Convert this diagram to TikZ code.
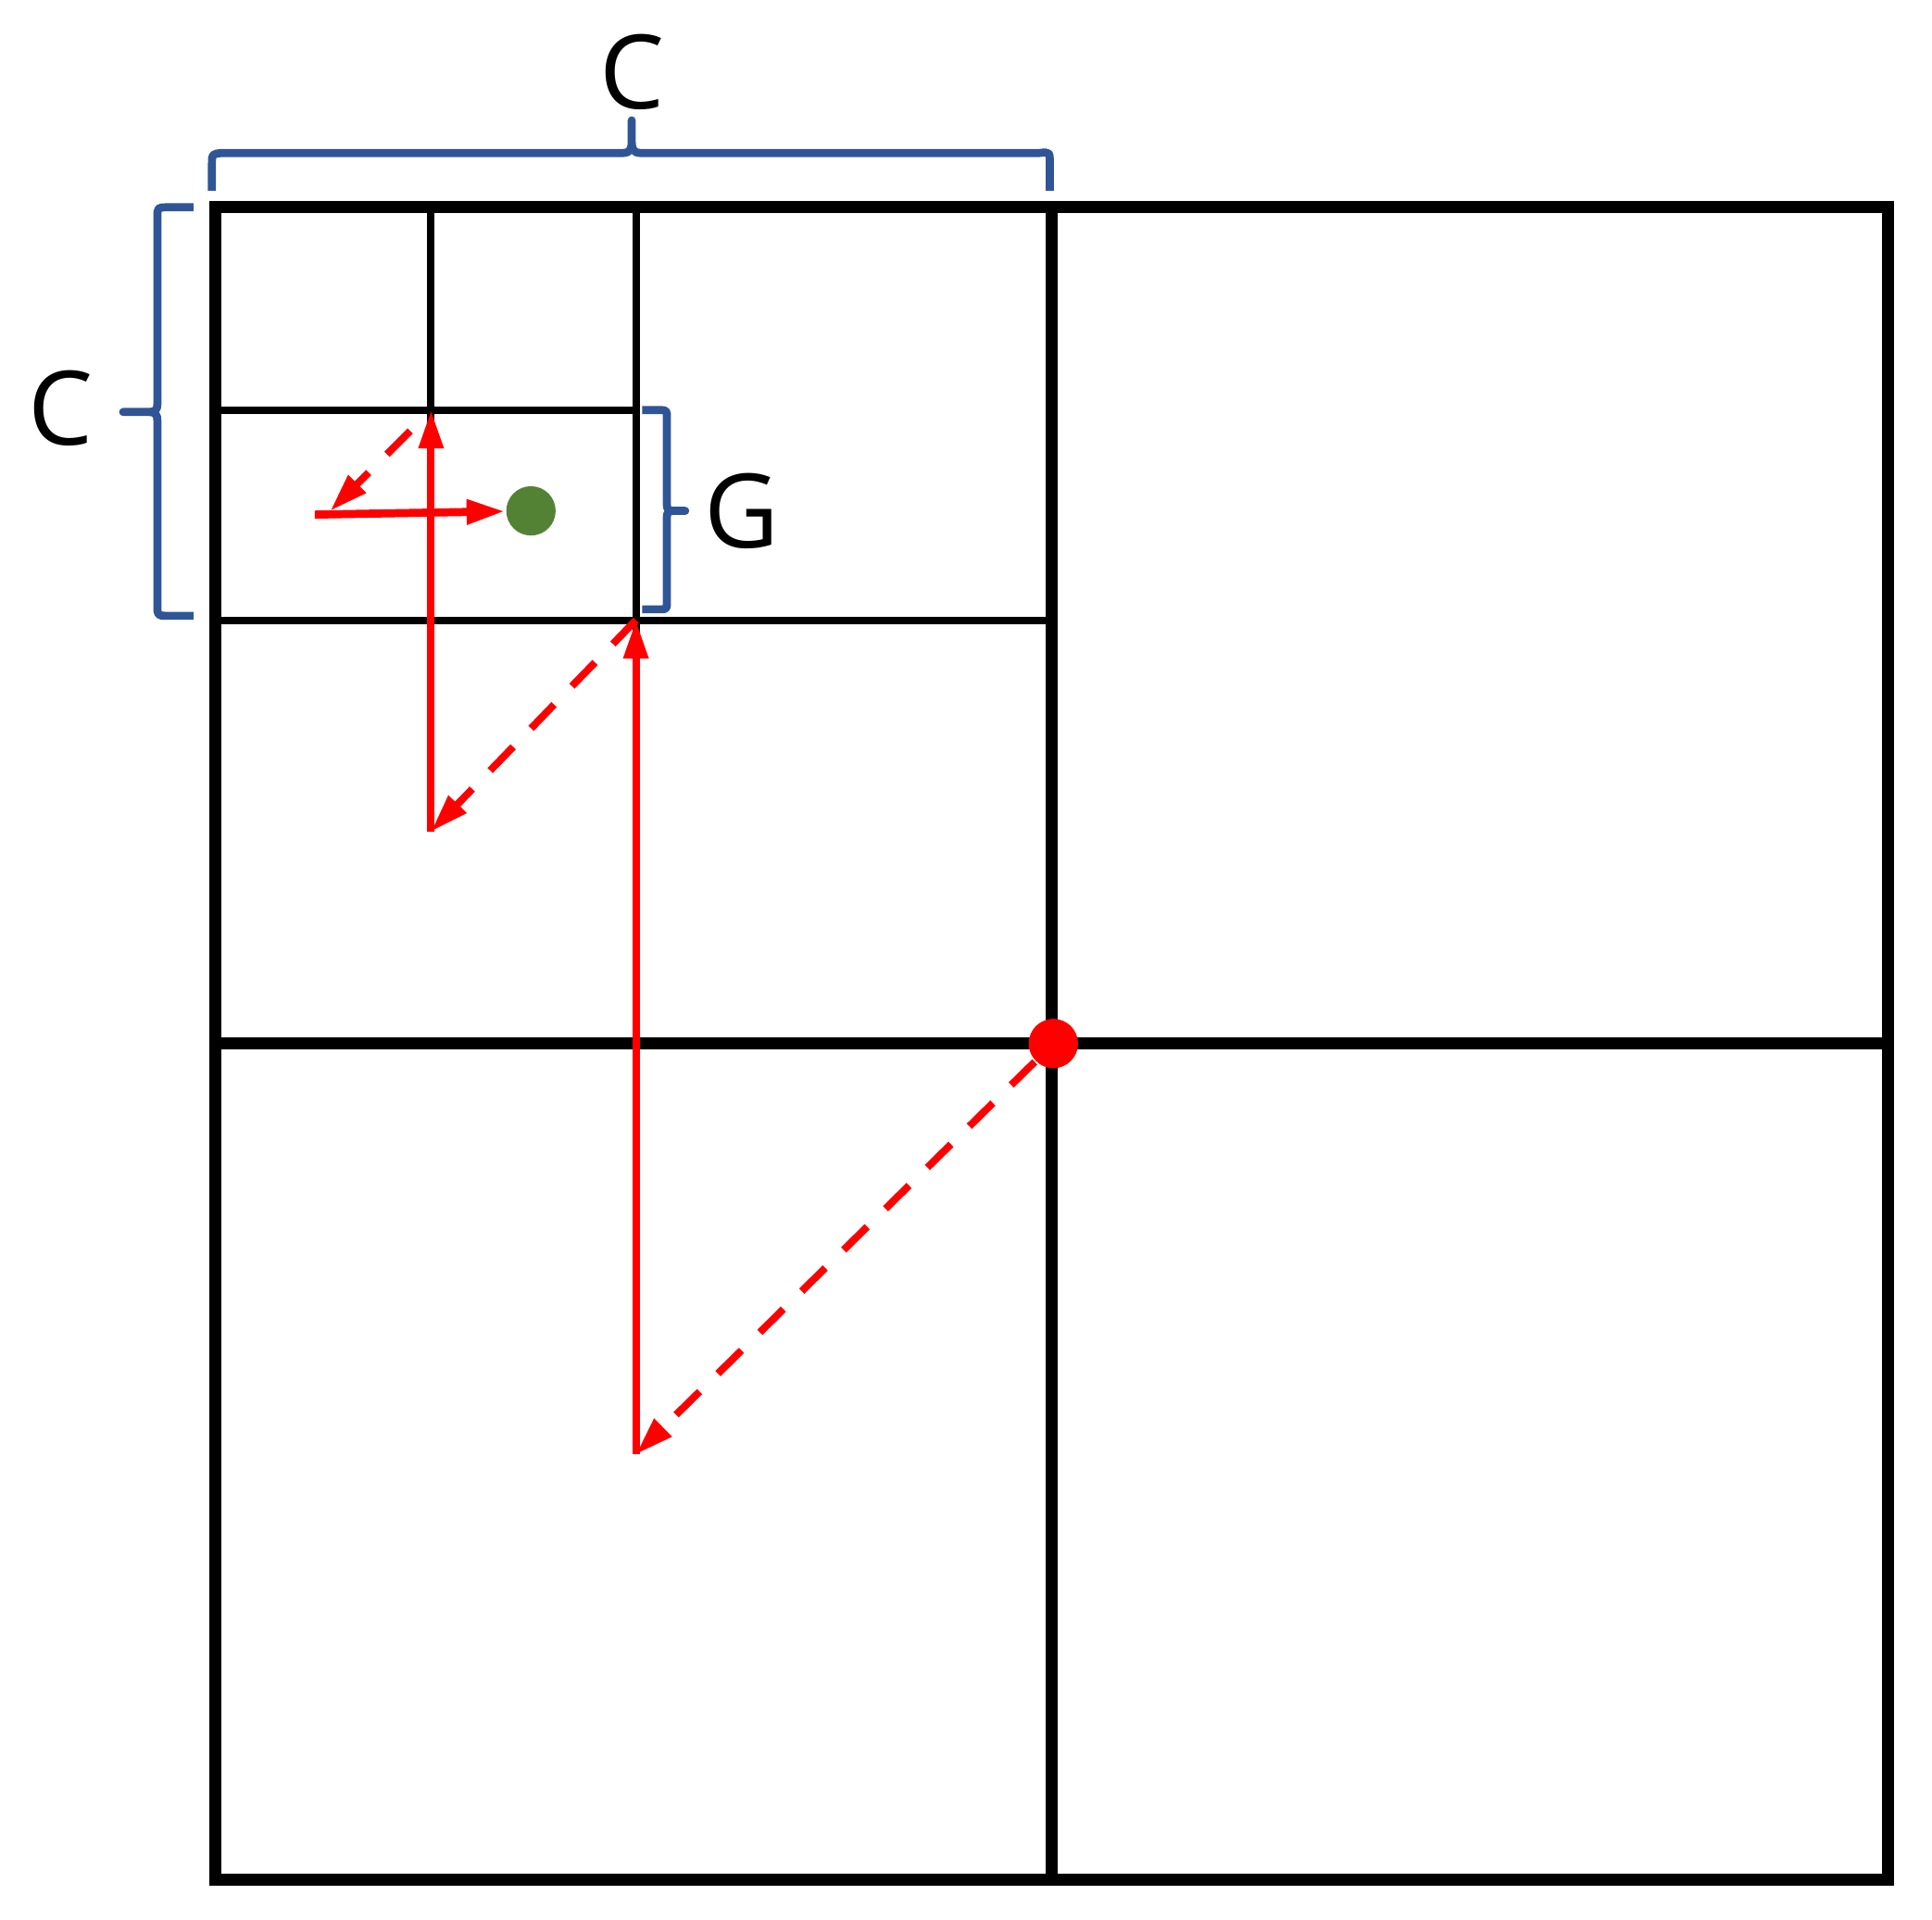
\documentclass[tikz,border=0pt]{standalone}
\usepackage{fontspec}
\setmainfont{Open Sans}
\usepackage{xcolor}
\usetikzlibrary{arrows.meta}

\definecolor{bracecol}{RGB}{47,85,151}
\definecolor{dotgreen}{RGB}{84,130,53}

\begin{document}
\begin{tikzpicture}[
  thickline/.style={line width=1.65pt},
  thinline/.style={line width=1pt},
  hop/.style={red, line width=1pt, -{Triangle[length=5.2pt,width=3.2pt]}},
  jump/.style={hop, dash pattern=on 4.5pt off 3.5pt},
  bracket/.style={bracecol, line width=1.1pt, line join=round},
  lbl/.style={font=\fontsize{14}{17}\selectfont, inner sep=0pt}
]
 \useasboundingbox (-1.032,-0.192) rectangle (8.21,8.992);
 % cells
 \draw [thinline] (2.01,8) -- (2.01,4);
 \draw [thinline] (0,6.025) -- (4,6.025);
 \draw [thinline] (1.03,8) -- (1.03,6.025);
 \draw [thinline] (0,7.03) -- (2.01,7.03);
 \draw [thickline] (0,0) rectangle (8,8);
 \draw [thickline] (4,0) -- (4,8);
 \draw [thickline] (0,4) -- (8,4);
 % braces
 \draw [bracket] (-0.018,8.08) -- (-0.018,8.21) .. controls (-0.018,8.255) .. (0.03,8.26)
   -- (1.95,8.26) .. controls (1.985,8.262) and (1.99,8.28) .. (1.99,8.32) -- (1.99,8.416)
   -- (1.99,8.32) .. controls (1.99,8.28) and (1.995,8.262) .. (2.03,8.26)
   -- (3.94,8.26) .. controls (3.99,8.265) .. (3.99,8.21) -- (3.99,8.08);
 \draw [bracket] (-0.106,8) -- (-0.23,8) .. controls (-0.279,8) .. (-0.279,7.95)
   -- (-0.279,7.06) .. controls (-0.279,7.03) and (-0.29,7.021) .. (-0.32,7.021) -- (-0.443,7.021)
   -- (-0.32,7.021) .. controls (-0.29,7.021) and (-0.279,7.01) .. (-0.279,6.98)
   -- (-0.279,6.096) .. controls (-0.279,6.046) .. (-0.23,6.046) -- (-0.106,6.046);
 \draw [bracket] (2.04,7.03) -- (2.12,7.03) .. controls (2.158,7.03) .. (2.158,6.995)
   -- (2.158,6.58) .. controls (2.158,6.555) and (2.165,6.548) .. (2.19,6.548) -- (2.246,6.548)
   -- (2.19,6.548) .. controls (2.165,6.548) and (2.158,6.54) .. (2.158,6.515)
   -- (2.158,6.11) .. controls (2.158,6.077) .. (2.12,6.077) -- (2.04,6.077);
 \node [lbl] (ctop) at (1.99,8.649) {C};
 \node [lbl] (cleft) at (-0.74,7.04) {C};
 \node [lbl] (glbl) at (2.517,6.548) {G};
 % path of the search
 \node [circle, fill=red, inner sep=0pt, minimum size=0.236cm] (reddot) at (4.007,4) {};
 \node [circle, fill=dotgreen, inner sep=0pt, minimum size=0.236cm] (greendot) at (1.508,6.548) {};
 \coordinate (s1) at (2.01,2.035);
 \coordinate (s2) at (2.01,6.025);
 \coordinate (s3) at (1.03,5.014);
 \coordinate (s4) at (1.03,7.03);
 \coordinate (s5) at (0.474,6.53);
 \coordinate (s5b) at (0.548,6.548);
 \draw [jump] (reddot) -- (s1);
 \draw [hop] (s1) -- (s2);
 \draw [jump] (s2) -- (s3);
 \draw [hop] (s3) -- (s4);
 \draw [jump, shorten <=4pt] (s4) -- (s5b);
 \draw [hop, line width=1.1pt] (s5) -- (greendot);
\end{tikzpicture}
\end{document}
